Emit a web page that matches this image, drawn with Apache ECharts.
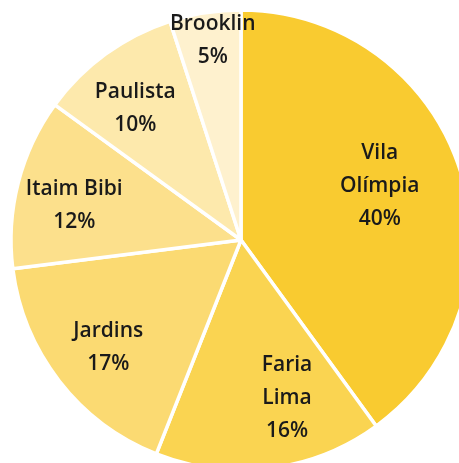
<!DOCTYPE html>
<html>
	<head>
		<meta charset="utf-8" />
		<title>Pie</title>
		<style type="text/css">
			body,
			html,
			#chart {
				width: 100%;
				height: 100%;
				overflow: hidden;
				margin: 0;
				background: #fff;
			}
		</style>
	</head>
	<body>
		<div id="chart"></div>
		<script src="https://cdn.jsdelivr.net/npm/echarts@6/dist/echarts.min.js"></script>
		<script>
			// dados
			var names = ['Vila\nOlímpia', 'Faria\nLima', 'Jardins', 'Itaim Bibi', 'Paulista', 'Brooklin'];
			var values = [40, 16, 17, 12, 10, 5];
			var colors = ['#F9CB30', '#FAD451', '#FBDA72', '#FCE08C', '#FDE9AC', '#FEF1CE'];
			var labelOffsets = [[-21, -2], [25, -9], [0, 5], [-4, 7], [-7, 4], [-2, -34]];

			var chart = echarts.init(document.getElementById('chart'));

			var center = [241, 240];
			var slices = names.map(function (n, i) {
				return { name: n, value: values[i], itemStyle: { color: colors[i] } };
			});
			// labels numa segunda série transparente para ficarem mais longe do centro
			var labelSlices = names.map(function (n, i) {
				return {
					name: n,
					value: values[i],
					label: { offset: labelOffsets[i] }
				};
			});

			chart.setOption({
				animation: false,
				series: [
					{
						type: 'pie',
						center: center,
						radius: [0, 230],
						startAngle: 90,
						clockwise: true,
						silent: true,
						itemStyle: { borderColor: '#fff', borderWidth: 3.5 },
						label: { show: false },
						labelLine: { show: false },
						data: slices
					},
					{
						type: 'pie',
						center: center,
						radius: [100, 230],
						startAngle: 90,
						clockwise: true,
						silent: true,
						itemStyle: { color: 'rgba(0,0,0,0)', borderWidth: 0 },
						label: {
							show: true,
							position: 'inside',
							formatter: function (p) {
								return p.name + '\n' + p.value + '%';
							},
							color: '#1a1a1a',
							fontFamily: 'Open Sans',
							fontWeight: 600,
							fontSize: 21,
							lineHeight: 33
						},
						labelLine: { show: false },
						data: labelSlices
					}
				]
			});
		</script>
	</body>
</html>
